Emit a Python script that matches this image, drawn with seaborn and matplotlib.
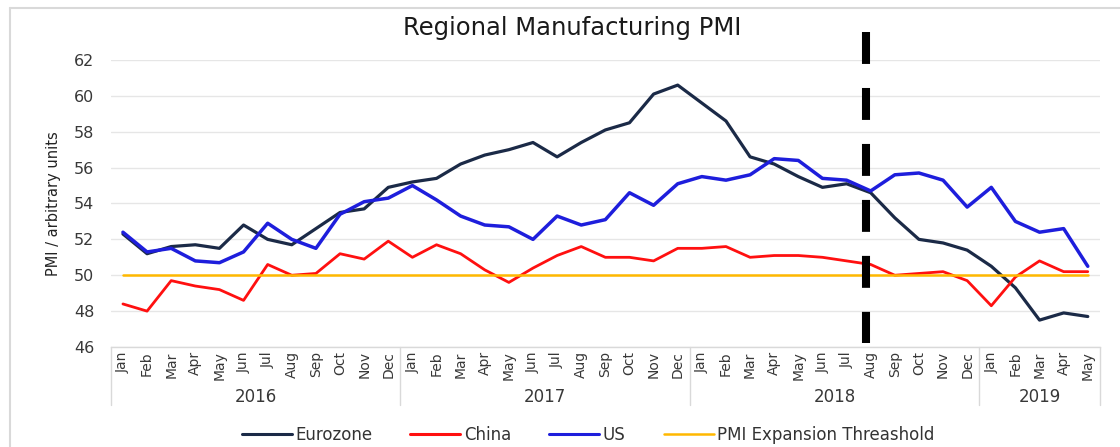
# %%
# Regional Manufacturing PMI - Eurozone / China / US, Jan 2016 to May 2019
import pandas as pd
import matplotlib
matplotlib.use("Agg")
import matplotlib.pyplot as plt
import matplotlib.transforms as mtransforms
from matplotlib.lines import Line2D
import seaborn as sns

# %%
# Data
month_labels = (["Jan", "Feb", "Mar", "Apr", "May", "Jun",
                 "Jul", "Aug", "Sep", "Oct", "Nov", "Dec"] * 3
                + ["Jan", "Feb", "Mar", "Apr", "May"])
year_labels = ["2016", "2017", "2018", "2019"]
months_per_year = [12, 12, 12, 5]

eurozone = [52.3, 51.2, 51.6, 51.7, 51.5, 52.8, 52.0, 51.7, 52.6, 53.5, 53.7, 54.9,
            55.2, 55.4, 56.2, 56.7, 57.0, 57.4, 56.6, 57.4, 58.1, 58.5, 60.1, 60.6,
            59.6, 58.6, 56.6, 56.2, 55.5, 54.9, 55.1, 54.6, 53.2, 52.0, 51.8, 51.4,
            50.5, 49.3, 47.5, 47.9, 47.7]
china = [48.4, 48.0, 49.7, 49.4, 49.2, 48.6, 50.6, 50.0, 50.1, 51.2, 50.9, 51.9,
         51.0, 51.7, 51.2, 50.3, 49.6, 50.4, 51.1, 51.6, 51.0, 51.0, 50.8, 51.5,
         51.5, 51.6, 51.0, 51.1, 51.1, 51.0, 50.8, 50.6, 50.0, 50.1, 50.2, 49.7,
         48.3, 49.9, 50.8, 50.2, 50.2]
us = [52.4, 51.3, 51.5, 50.8, 50.7, 51.3, 52.9, 52.0, 51.5, 53.4, 54.1, 54.3,
      55.0, 54.2, 53.3, 52.8, 52.7, 52.0, 53.3, 52.8, 53.1, 54.6, 53.9, 55.1,
      55.5, 55.3, 55.6, 56.5, 56.4, 55.4, 55.3, 54.7, 55.6, 55.7, 55.3, 53.8,
      54.9, 53.0, 52.4, 52.6, 50.5]
threshold = [50.0, 50.0, 50.0, 50.0, 50.0, 50.0, 50.0, 50.0, 50.0, 50.0, 50.0, 50.0,
             50.0, 50.0, 50.0, 50.0, 50.0, 50.0, 50.0, 50.0, 50.0, 50.0, 50.0, 50.0,
             50.0, 50.0, 50.0, 50.0, 50.0, 50.0, 50.0, 50.0, 50.0, 50.0, 50.0, 50.0,
             50.0, 50.0, 50.0, 50.0, 50.0]

series_names = ["Eurozone", "China", "US"]
series_colors = {"Eurozone": "#1B2A47", "China": "#FF1010", "US": "#1E1EDC"}
series_widths = [2.3, 2.0, 2.5]
threshold_label = "PMI Expansion Threashold"
threshold_color = "#FFB800"

# marker line sits just before Aug 2018
marker_idx = 24 + 7 - 0.2

# %%
idx = list(range(len(month_labels)))
df = pd.DataFrame({
    "idx": idx * 3,
    "pmi": eurozone + china + us,
    "series": ["Eurozone"] * len(idx) + ["China"] * len(idx) + ["US"] * len(idx),
})

sns.set_style("white")
plt.rcParams["font.family"] = ["DejaVu Sans"]
plt.rcParams["lines.scale_dashes"] = False
text_color = "#383838"
grey = "#D9D9D9"

fig = plt.figure(figsize=(11.2, 4.47), dpi=100)
ax = fig.add_axes([0.099, 0.2237, 0.883, 0.6421])

sns.lineplot(data=df, x="idx", y="pmi", hue="series", hue_order=series_names,
             palette=series_colors, linewidth=2.2, ax=ax)
for line, lw in zip(ax.lines, series_widths):
    line.set_linewidth(lw)
sns.lineplot(x=idx, y=threshold, color=threshold_color, linewidth=1.8,
             label=threshold_label, ax=ax)

handles, labels = ax.get_legend_handles_labels()
ax.legend_.remove()

# axes styling
ax.set_xlim(-0.5, len(idx) - 0.5)
ax.set_ylim(46, 62)
ax.set_yticks(range(46, 63, 2))
ax.tick_params(axis="y", length=0, pad=12, labelsize=11.5, labelcolor=text_color)
ax.set_xticks(idx)
ax.set_xticklabels(month_labels, rotation=90, fontsize=10, color=text_color)
ax.tick_params(axis="x", length=0, pad=3)
ax.set_xlabel("")
ax.set_ylabel("PMI / arbitrary units", fontsize=10.5, color="#222222", labelpad=9)
ax.grid(axis="y", color="#E6E6E6", linewidth=1)
ax.set_axisbelow(True)
for side in ["left", "right", "top"]:
    ax.spines[side].set_visible(False)
ax.spines["bottom"].set_color(grey)
ax.spines["bottom"].set_linewidth(1)

# year group labels under the months
trans = mtransforms.blended_transform_factory(ax.transData, ax.transAxes)
start = 0
bounds = [-0.5]
for year, n in zip(year_labels, months_per_year):
    ax.text(start + (n - 1) / 2, -0.174, year, transform=trans, ha="center",
            va="center", fontsize=12, color=text_color)
    start += n
    bounds.append(start - 0.5)
for b in bounds:
    ax.add_line(Line2D([b, b], [0, -0.202], transform=trans, color=grey,
                       linewidth=1, clip_on=False))

# thick dashed marker line
ax.plot([marker_idx, marker_idx], [63.56, 46.23], color="black", linewidth=5.8,
        linestyle=(0, (23, 17.3)), solid_capstyle="butt", dash_capstyle="butt",
        clip_on=False, zorder=5)

fig.text(0.511, 0.937, "Regional Manufacturing PMI", ha="center", va="center",
         fontsize=17.5, color="#1A1A1A")

fig.legend(handles, labels, loc="center", bbox_to_anchor=(0.525, 0.027), ncol=4,
           frameon=False, fontsize=12, handlelength=3.0, handletextpad=0.2,
           columnspacing=2.3, labelcolor="#333333")

# light outer frame of the chart
fig.add_artist(Line2D([10 / 1120, 1.0], [1 - 8 / 447, 1 - 8 / 447],
                      transform=fig.transFigure, color=grey, linewidth=1.5))
fig.add_artist(Line2D([10 / 1120, 10 / 1120], [0, 1 - 8 / 447],
                      transform=fig.transFigure, color=grey, linewidth=1.5))

fig.savefig("out.png", dpi=100)
